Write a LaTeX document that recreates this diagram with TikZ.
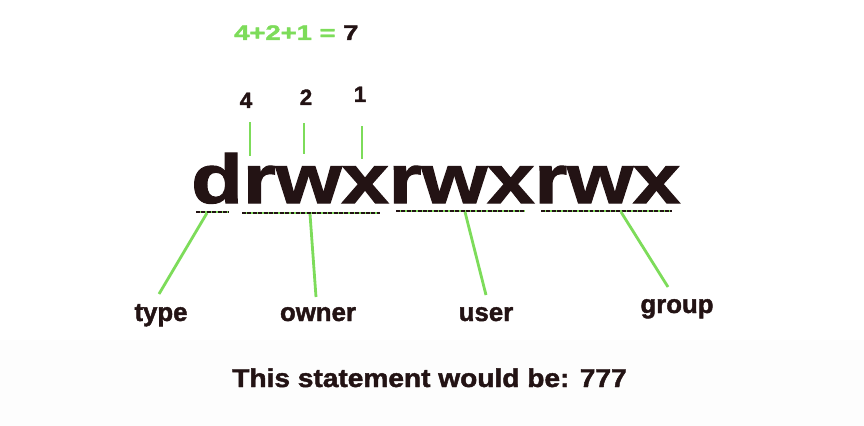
\documentclass[tikz,border=0pt]{standalone}
\usepackage{fontspec}
\setmainfont{Liberation Sans}
\newfontfamily\heavyfont[BoldFeatures={FakeBold=1.6}]{Liberation Sans}
\usepackage{graphicx}
\usetikzlibrary{positioning}
\definecolor{permgreen}{HTML}{7DDC5A}
\definecolor{permink}{HTML}{231314}

\begin{document}
\begin{tikzpicture}[x=0.03cm, y=-0.03cm,
  lbl/.style={font=\fontsize{22}{26}\selectfont\heavyfont\bfseries, text=permink, inner sep=0pt, anchor=base},
  bit/.style={font=\fontsize{19}{23}\selectfont\heavyfont\bfseries, text=permink, inner sep=0pt, anchor=base},
  link/.style={draw=permgreen, line width=2.4pt},
  dotline/.style={draw=permink, line width=2pt, dash pattern=on 3.4pt off 1.2pt,
    preaction={draw=permgreen, line width=2pt, solid}}]
\useasboundingbox (0,0) rectangle (864,426);
\fill[black!0.8] (0,340) rectangle (864,426);

% sum of the bits
\node[anchor=base west, inner sep=0pt, text=permink, font=\fontsize{18}{22}\selectfont\heavyfont\bfseries] (sum) at (234,40)
  {\scalebox{1.3}[1]{\textcolor{permgreen}{4+2+1 =} 7}};

% bit values
\node[bit] (v4) at (246,108) {4};
\node[bit] (v2) at (306,105) {2};
\node[bit] (v1) at (360,102) {1};
\coordinate (k4) at (250,156);
\coordinate (k2) at (304,154);
\coordinate (k1) at (362,159);
\draw[link] (v4.south -| k4) ++(0,14) -- (k4);
\draw[link] (v2.south -| k2) ++(0,18) -- (k2);
\draw[link] (v1.south -| k1) ++(0,24) -- (k1);

% the permission string
\node[anchor=base west, inner sep=0pt, text=permink] (perm) at (191,203)
  {\resizebox{14.66cm}{1.5cm}{\heavyfont\bfseries drwxrwxrwx}};

% underlines
\draw[dotline] (196,212) -- (229,212);
\draw[dotline] (242,213) -- (380,213);
\draw[dotline] (396,211) -- (525,211);
\draw[dotline] (541,211) -- (672,211);

% labels
\node[lbl] (type) at (161,321) {type};
\node[lbl] (owner) at (318,321) {owner};
\node[lbl] (user) at (486,321) {user};
\node[lbl] (group) at (677,313) {group};

\coordinate (utype) at (207,213);
\coordinate (uowner) at (310,214);
\coordinate (uuser) at (465,212);
\coordinate (ugroup) at (621,212);
\coordinate (etype) at (159,294);
\coordinate (eowner) at (316,297);
\coordinate (euser) at (486,295);
\coordinate (egroup) at (668,287);
\draw[link] (utype) -- (etype);
\draw[link] (uowner) -- (eowner);
\draw[link] (uuser) -- (euser);
\draw[link] (ugroup) -- (egroup);

% statement
\node[anchor=base, inner sep=0pt, text=permink, font=\fontsize{22}{26}\selectfont\heavyfont\bfseries] (note) at (429.5,387)
  {\scalebox{1.09}[1]{This statement would be: 777}};
\end{tikzpicture}
\end{document}
